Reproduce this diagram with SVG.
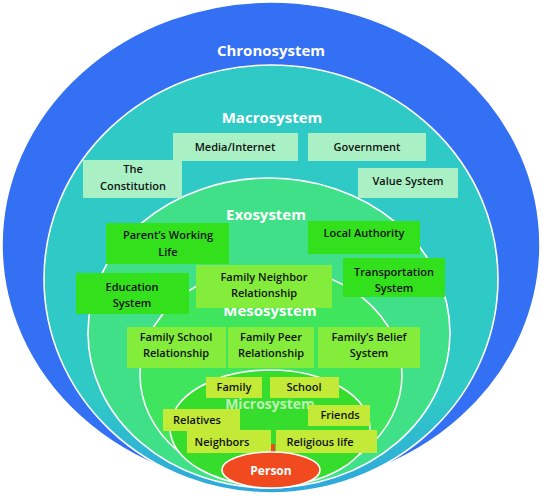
<svg xmlns="http://www.w3.org/2000/svg" width="543" height="496" viewBox="0 0 543 496">
<defs>
<linearGradient id="tealGrad" x1="0" y1="0" x2="0" y2="1">
<stop offset="0" stop-color="#2FC9C6"/>
<stop offset="0.78" stop-color="#2FC9C6"/>
<stop offset="1" stop-color="#2FA6DE"/>
</linearGradient>
</defs>
<style>
.ring{stroke:#ffffff;stroke-width:1.6}
.title{font-family:"Open Sans","DejaVu Sans",sans-serif;font-weight:700;font-size:15px;fill:#ffffff;text-anchor:middle}
.lbl{font-family:"Open Sans","DejaVu Sans",sans-serif;font-weight:600;font-size:11px;fill:#111111;text-anchor:middle}
.macro{fill:#A9F1C5}
.exo{fill:#33E01C}
.meso{fill:#84EC3A}
.micro{fill:#C3EA36}
</style>
<g id="rings">
<g id="chronosystem">
<ellipse class="ring" cx="271" cy="245" rx="269" ry="243" fill="#3470F3"/>
<text class="title" x="271" y="56">Chronosystem</text>
</g>
<g id="macrosystem">
<ellipse class="ring" cx="271" cy="279" rx="227" ry="214" fill="url(#tealGrad)"/>
<text class="title" x="272" y="123">Macrosystem</text>
</g>
<g id="exosystem">
<ellipse class="ring" cx="269" cy="333" rx="181" ry="155" fill="#40E088"/>
<text class="title" x="266" y="220">Exosystem</text>
</g>
<g id="mesosystem">
<ellipse class="ring" cx="271" cy="375" rx="131" ry="108" fill="#3FE55C"/>
<text class="title" x="270" y="316">Mesosystem</text>
</g>
<g id="microsystem">
<ellipse class="ring" cx="270" cy="428" rx="100" ry="58" fill="#36DD2C"/>
<text class="title" x="270" y="409" style="font-size:14px;fill:#E2F7DC;fill-opacity:0.8">Microsystem</text>
</g>
</g>
<g id="connectors">
<rect x="268" y="444" width="7" height="9" fill="#F04A1E"/>
</g>
<g id="macro-boxes">
<g id="media"><rect class="macro" x="173" y="133" width="125" height="28"/><text class="lbl" x="235" y="151">Media/Internet</text></g>
<g id="government"><rect class="macro" x="308" y="133" width="118" height="28"/><text class="lbl" x="367" y="151">Government</text></g>
<g id="constitution"><rect class="macro" x="83" y="160" width="99" height="38"/><text class="lbl" x="133" y="173">The</text><text class="lbl" x="133" y="190">Constitution</text></g>
<g id="value"><rect class="macro" x="358" y="168" width="100" height="30"/><text class="lbl" x="408" y="185">Value System</text></g>
</g>
<g id="exo-boxes">
<g id="parents"><rect class="exo" x="106" y="223" width="123" height="41"/><text class="lbl" x="168" y="239">Parent’s Working</text><text class="lbl" x="168" y="256">Life</text></g>
<g id="local"><rect class="exo" x="308" y="221" width="112" height="33"/><text class="lbl" x="364" y="237">Local Authority</text></g>
<g id="education"><rect class="exo" x="76" y="273" width="113" height="41"/><text class="lbl" x="132" y="291">Education</text><text class="lbl" x="132" y="307">System</text></g>
<g id="transport"><rect class="exo" x="343" y="258" width="102" height="39"/><text class="lbl" x="394" y="276">Transportation</text><text class="lbl" x="394" y="292">System</text></g>
<g id="neighbor-rel"><rect class="meso" x="196" y="265" width="136" height="43"/><text class="lbl" x="264" y="281">Family Neighbor</text><text class="lbl" x="264" y="297">Relationship</text></g>
</g>
<g id="meso-boxes">
<g id="school-rel"><rect class="meso" x="127" y="327" width="99" height="41"/><text class="lbl" x="176" y="341">Family School</text><text class="lbl" x="176" y="357">Relationship</text></g>
<g id="peer-rel"><rect class="meso" x="228" y="327" width="86" height="41"/><text class="lbl" x="271" y="341">Family Peer</text><text class="lbl" x="271" y="357">Relationship</text></g>
<g id="belief"><rect class="meso" x="318" y="327" width="102" height="41"/><text class="lbl" x="369" y="341">Family’s Belief</text><text class="lbl" x="369" y="357">System</text></g>
</g>
<g id="micro-boxes">
<g id="family"><rect class="micro" x="206" y="377" width="56" height="21"/><text class="lbl" x="234" y="391">Family</text></g>
<g id="school"><rect class="micro" x="270" y="377" width="69" height="21"/><text class="lbl" x="304" y="391">School</text></g>
<g id="friends"><rect class="micro" x="308" y="405" width="62" height="21"/><text class="lbl" x="340" y="419">Friends</text></g>
<g id="relatives"><rect class="micro" x="163" y="409" width="77" height="22"/><text class="lbl" x="197" y="424">Relatives</text></g>
<g id="neighbors"><rect class="micro" x="187" y="430" width="84" height="23"/><text class="lbl" x="222" y="446">Neighbors</text></g>
<g id="religious"><rect class="micro" x="276" y="430" width="101" height="23"/><text class="lbl" x="320" y="446">Religious life</text></g>
</g>
<g id="person">
<ellipse cx="271" cy="470" rx="49" ry="18" fill="#F04A1E" stroke="#ffffff" stroke-width="1.5"/>
<text x="271" y="475" text-anchor="middle" style="font-family:'Open Sans','DejaVu Sans',sans-serif;font-weight:700;font-size:12px;fill:#ffffff">Person</text>
</g>
</svg>
